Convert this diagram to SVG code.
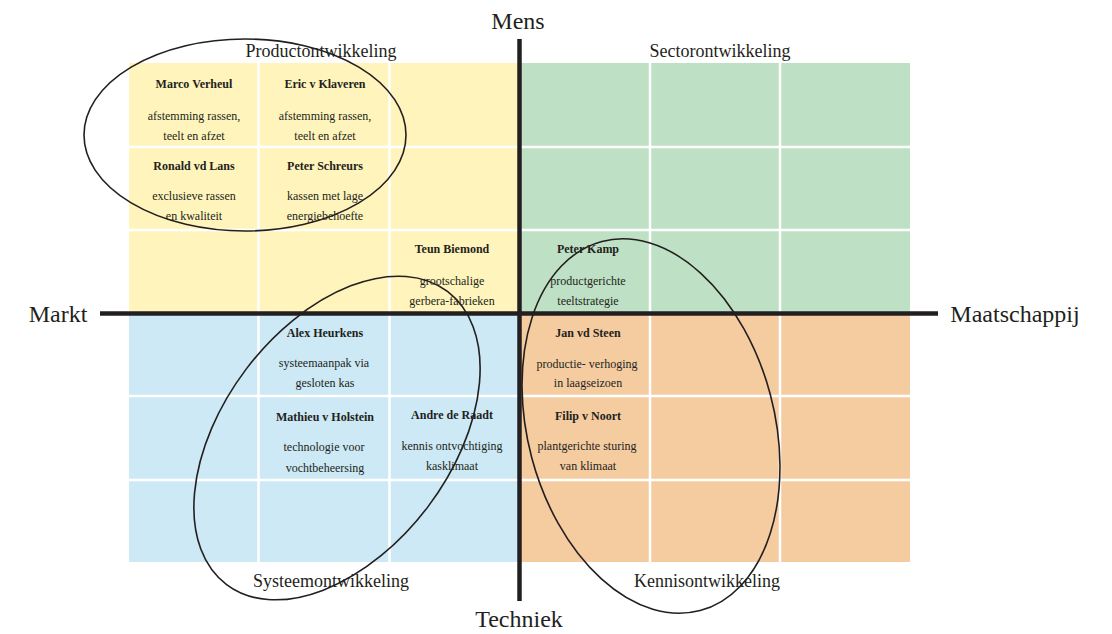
<svg xmlns="http://www.w3.org/2000/svg" width="1112" height="634" viewBox="0 0 1112 634">
<style>
text{font-family:"Liberation Serif","Times New Roman",serif;fill:#231f20;text-anchor:middle}
.ax{font-size:24px}
.q{font-size:18px}
.n{font-size:12px;font-weight:bold}
.d{font-size:12px}
.grid{stroke:#fff;stroke-width:2.5}
.axis{stroke:#231f20;stroke-width:4.5}
.ell{fill:none;stroke:#231f20;stroke-width:1.6}
</style>
<g id="quadrants">
<rect x="129" y="63" width="390" height="250" fill="#fff4bc"/>
<rect x="519" y="63" width="391" height="250" fill="#bee0c4"/>
<rect x="129" y="313" width="390" height="249" fill="#cce9f5"/>
<rect x="519" y="313" width="391" height="249" fill="#f5cba0"/>
<g class="grid">
<line x1="258.5" y1="63" x2="258.5" y2="562"/>
<line x1="389.5" y1="63" x2="389.5" y2="562"/>
<line x1="650" y1="63" x2="650" y2="562"/>
<line x1="780" y1="63" x2="780" y2="562"/>
<line x1="129" y1="147" x2="910" y2="147"/>
<line x1="129" y1="230" x2="910" y2="230"/>
<line x1="129" y1="396" x2="910" y2="396"/>
<line x1="129" y1="480" x2="910" y2="480"/>
</g>
</g>
<g id="axes">
<line class="axis" x1="519.5" y1="39" x2="519.5" y2="601"/>
<line class="axis" x1="100" y1="313.5" x2="938" y2="313.5"/>
<text class="ax" x="518" y="29">Mens</text>
<text class="ax" x="519" y="627">Techniek</text>
<text class="ax" x="58" y="322">Markt</text>
<text class="ax" x="1015" y="322">Maatschappij</text>
</g>
<g id="quadrant-labels">
<text class="q" x="321" y="57">Productontwikkeling</text>
<text class="q" x="720" y="57">Sectorontwikkeling</text>
<text class="q" x="331" y="587">Systeemontwikkeling</text>
<text class="q" x="707" y="587">Kennisontwikkeling</text>
</g>
<g id="node-marco"><text class="n" x="194" y="88">Marco Verheul</text><text class="d" x="194" y="120">afstemming rassen,</text><text class="d" x="194" y="140">teelt en afzet</text></g>
<g id="node-eric"><text class="n" x="325" y="88">Eric v Klaveren</text><text class="d" x="325" y="120">afstemming rassen,</text><text class="d" x="325" y="140">teelt en afzet</text></g>
<g id="node-ronald"><text class="n" x="194" y="170">Ronald vd Lans</text><text class="d" x="194" y="200">exclusieve rassen</text><text class="d" x="194" y="220">en kwaliteit</text></g>
<g id="node-peters"><text class="n" x="325" y="170">Peter Schreurs</text><text class="d" x="325" y="200">kassen met lage</text><text class="d" x="325" y="220">energiebehoefte</text></g>
<g id="node-teun"><text class="n" x="452" y="253">Teun Biemond</text><text class="d" x="452" y="285">grootschalige</text><text class="d" x="452" y="305">gerbera-fabrieken</text></g>
<g id="node-peterk"><text class="n" x="588" y="253">Peter Kamp</text><text class="d" x="588" y="285">productgerichte</text><text class="d" x="588" y="305">teeltstrategie</text></g>
<g id="node-alex"><text class="n" x="325" y="337">Alex Heurkens</text><text class="d" x="324" y="367">systeemaanpak via</text><text class="d" x="325" y="387">gesloten kas</text></g>
<g id="node-mathieu"><text class="n" x="325" y="421">Mathieu v Holstein</text><text class="d" x="324" y="451">technologie voor</text><text class="d" x="325" y="472">vochtbeheersing</text></g>
<g id="node-andre"><text class="n" x="452" y="419">Andre de Raadt</text><text class="d" x="452" y="450">kennis ontvochtiging</text><text class="d" x="452" y="470">kasklimaat</text></g>
<g id="node-jan"><text class="n" x="588" y="337">Jan vd Steen</text><text class="d" x="587" y="368">productie- verhoging</text><text class="d" x="588" y="387">in laagseizoen</text></g>
<g id="node-filip"><text class="n" x="588" y="420">Filip v Noort</text><text class="d" x="587" y="450">plantgerichte sturing</text><text class="d" x="588" y="470">van klimaat</text></g>
<g id="connectors">
<ellipse class="ell" cx="245" cy="135" rx="161" ry="96"/>
<ellipse class="ell" cx="337" cy="438" rx="183.5" ry="114" transform="rotate(-53 337 438)"/>
<ellipse class="ell" cx="651" cy="426" rx="191" ry="123.4" transform="rotate(75.1 651 426)"/>
</g>
</svg>
